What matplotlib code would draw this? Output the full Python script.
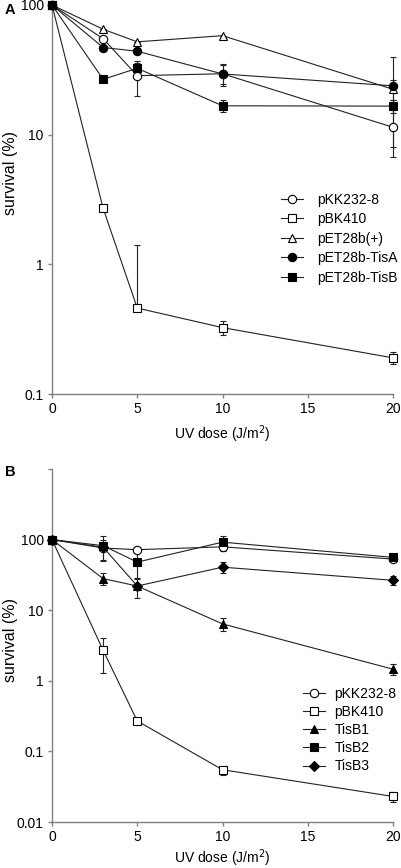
import matplotlib
matplotlib.use('Agg')
import matplotlib.pyplot as plt
from matplotlib.lines import Line2D
from matplotlib.ticker import FixedLocator, NullLocator

plt.rcParams['font.family'] = ['Liberation Sans', 'DejaVu Sans']

### data
dose = [0, 3, 5, 10, 20]

# panel A  (errors given as [lower, upper])
a_labels = ['pKK232-8', 'pBK410', 'pET28b(+)', 'pET28b-TisA', 'pET28b-TisB']
a_pkk = [100, 55, 28.5, 29.5, 11.4]
a_pkk_err = [[0, 0, 8.5, 5, 4.7], [0, 0, 8.5, 5, 4.7]]
a_pbk = [100, 2.7, 0.46, 0.325, 0.19]
a_pbk_err = [[0, 0, 0, 0.04, 0.02], [0, 0, 0.95, 0.04, 0.02]]
a_pet = [100, 65, 52, 58, 22.4]
a_pet_err = [[0, 0, 0, 0, 4], [0, 0, 0, 0, 4]]
a_tisa = [100, 47, 44, 29.4, 23.8]
a_tisa_err = [[0, 0, 0, 5.8, 15.8], [0, 0, 0, 5.8, 15.8]]
a_tisb = [100, 26.7, 32.5, 16.7, 16.6]
a_tisb_err = [[0, 0, 3, 1.8, 2], [0, 0, 3, 1.8, 2]]

# panel B
b_labels = ['pKK232-8', 'pBK410', 'TisB1', 'TisB2', 'TisB3']
b_pkk = [100, 76, 72, 79, 53]
b_pkk_err = [[0, 24, 0, 8, 4], [0, 24, 0, 8, 4]]
b_pbk = [100, 2.7, 0.27, 0.055, 0.023]
b_pbk_err = [[0, 1.4, 0.02, 0.008, 0.004], [0, 1.4, 0.02, 0.008, 0.004]]
b_tisb1 = [100, 28, 22, 6.4, 1.46]
b_tisb1_err = [[0, 5.5, 0, 1.3, 0.25], [0, 5.5, 0, 1.3, 0.25]]
b_tisb2 = [100, 82, 48, 92, 56]
b_tisb2_err = [[0, 32, 20, 22, 5], [0, 32, 20, 22, 5]]
b_tisb3 = [100, 78, 22, 40.7, 26.5]
b_tisb3_err = [[0, 0, 7, 7, 4], [0, 0, 7, 7, 4]]

markers_a = [('o', 'white'), ('s', 'white'), ('^', 'white'), ('o', 'black'), ('s', 'black')]
markers_b = [('o', 'white'), ('s', 'white'), ('^', 'black'), ('s', 'black'), ('D', 'black')]

LINE = '#222222'
FS = 10

fig = plt.figure(figsize=(4.01, 8.68), dpi=100)
axA = fig.add_axes([52/401, 474/868, 341/401, 389/868])
axB = fig.add_axes([52/401, 46/868, 341/401, 353/868])

def draw(ax, series, errs, labels, mk):
    handles = []
    for y, e, lab, (m, fc) in zip(series, errs, labels, mk):
        ms = 5.0 if m == 'D' else 6
        ax.errorbar(dose, y, yerr=e, color=LINE, lw=0.8, elinewidth=0.8,
                    capsize=2.5, capthick=0.8, marker=m, ms=ms, mfc=fc, mec='black',
                    mew=0.8, clip_on=False, zorder=3)
        handles.append(Line2D([], [], color=LINE, lw=0.8, marker=m, ms=ms,
                              mfc=fc, mec='black', mew=0.8, label=lab))
    return handles

def style(ax, ymin, ymax, yt, ylabs, xpad):
    ax.set_yscale('log')
    ax.set_xlim(0, 20)
    ax.set_ylim(ymin, ymax)
    ax.set_xticks([0, 5, 10, 15, 20])
    ax.yaxis.set_major_locator(FixedLocator(yt))
    ax.set_yticklabels(ylabs)
    ax.yaxis.set_minor_locator(NullLocator())
    for s in ['top', 'right']:
        ax.spines[s].set_visible(False)
    for s in ['left', 'bottom']:
        ax.spines[s].set_color('#808080')
        ax.spines[s].set_linewidth(1)
    ax.tick_params(direction='out', length=3, width=1, color='#808080',
                   labelsize=FS, pad=3)
    ax.set_xlabel('UV dose (J/m$^2$)', fontsize=FS, labelpad=xpad)
    ax.set_ylabel('survival (%)', fontsize=11.5)

hA = draw(axA, [a_pkk, a_pbk, a_pet, a_tisa, a_tisb],
          [a_pkk_err, a_pbk_err, a_pet_err, a_tisa_err, a_tisb_err], a_labels, markers_a)
style(axA, 0.1, 100, [0.1, 1, 10, 100], ['0.1', '1', '10', '100'], 5)
axA.legend(handles=hA, loc='upper left', bbox_to_anchor=(0.671, 0.5175), frameon=False,
           fontsize=FS, borderpad=0, borderaxespad=0, handlelength=1.6,
           handletextpad=1.0, labelspacing=0.4)
axA.yaxis.set_label_coords(-0.10, 0.567)

hB = draw(axB, [b_pkk, b_pbk, b_tisb1, b_tisb2, b_tisb3],
          [b_pkk_err, b_pbk_err, b_tisb1_err, b_tisb2_err, b_tisb3_err], b_labels, markers_b)
style(axB, 0.01, 1000, [0.01, 0.1, 1, 10, 100, 1000], ['0.01', '0.1', '1', '10', '100', ''], 2)
axB.legend(handles=hB, loc='upper left', bbox_to_anchor=(0.735, 0.383), frameon=False,
           fontsize=FS, borderpad=0, borderaxespad=0, handlelength=1.6,
           handletextpad=0.7, labelspacing=0.3)
axB.yaxis.set_label_coords(-0.10, 0.516)

fig.text(5/401, 1 - 10/868, 'A', fontsize=10.5, fontweight='bold', va='center')
fig.text(5/401, 1 - 472/868, 'B', fontsize=10.5, fontweight='bold', va='center')

fig.savefig('out.png', dpi=100)
